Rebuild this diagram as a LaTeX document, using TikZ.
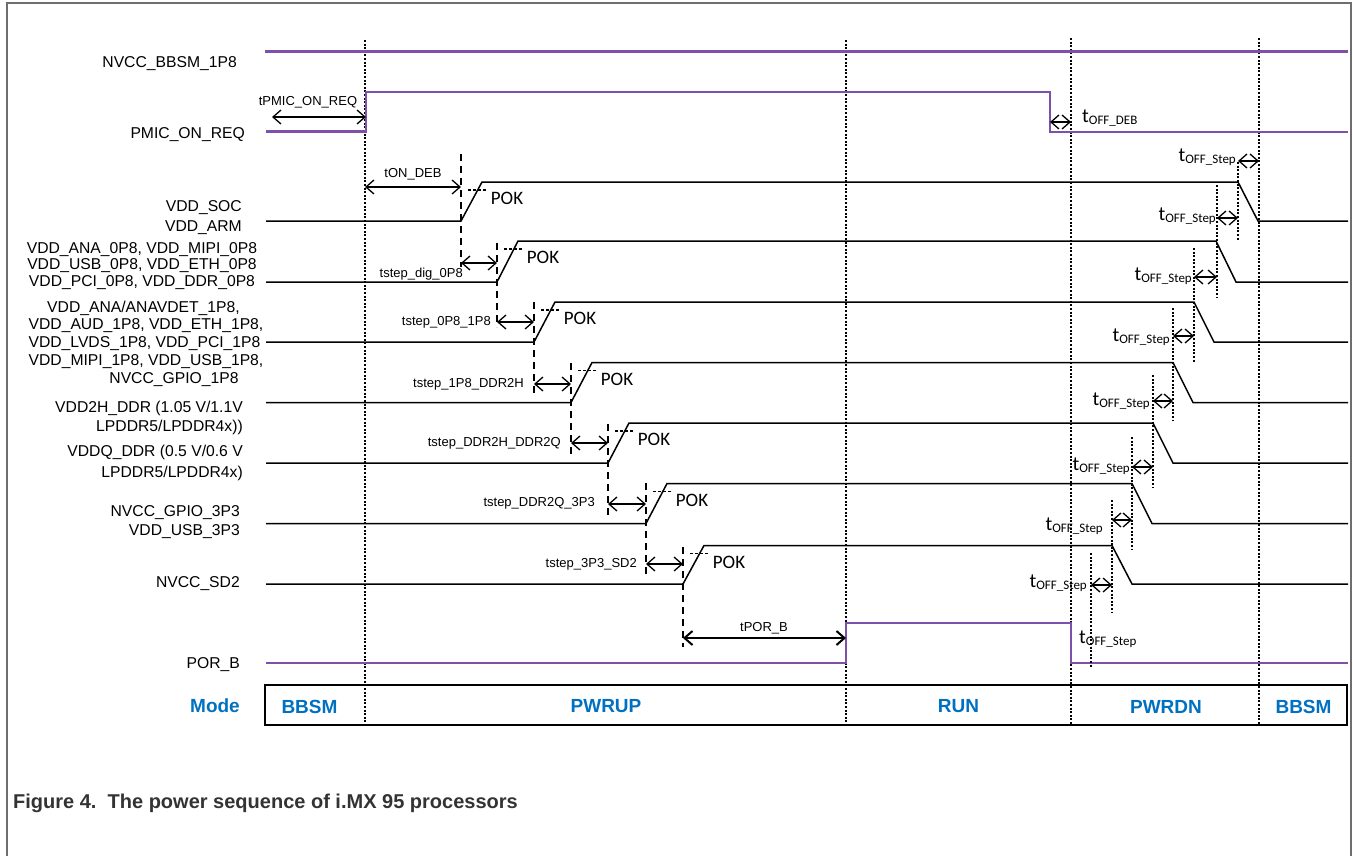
\documentclass[tikz,border=0pt]{standalone}
\usepackage{fontspec}
\setmainfont{Liberation Sans}
\newfontfamily\calfont{Carlito}
\usetikzlibrary{arrows.meta}
\definecolor{sigpurple}{RGB}{125,80,170}
\definecolor{modeblue}{RGB}{0,112,192}
\definecolor{capgray}{RGB}{51,51,51}
\definecolor{framegray}{RGB}{110,110,110}
\begin{document}
\begin{tikzpicture}[x=1pt,y=-1pt,
  sig/.style={line width=1.5pt, black, line join=miter},
  psig/.style={line width=2.2pt, sigpurple},
  lbl/.style={font=\fontsize{15.7}{19}\selectfont, inner sep=0pt},
  small/.style={font=\fontsize{13}{15}\selectfont, inner sep=0pt},
  pok/.style={font=\calfont\fontsize{19}{21}\selectfont, inner sep=0pt},
  modelbl/.style={font=\bfseries\fontsize{19}{22}\selectfont, text=modeblue, inner sep=0pt},
  bound/.style={line width=1.3pt, dash pattern=on 2pt off 1.6pt},
  vdash/.style={line width=1.2pt, dash pattern=on 7pt off 5pt},
  pokdot/.style={line width=1.2pt, dash pattern=on 3pt off 2pt},
  dimarrow/.style={line width=1.3pt, {Straight Barb[length=8pt,width=14pt]}-{Straight Barb[length=8pt,width=14pt]}},
  toff/.style={font=\calfont\fontsize{20}{22}\selectfont, inner sep=0pt}
]
\useasboundingbox (0,0) rectangle (1353,855);
% frame
\draw[framegray, line width=1.3pt] (7,856) -- (7,3) -- (1351,3) -- (1351,856);

% mode boundaries
\foreach \x/\ys in {365/40, 846/40, 1071/38, 1259/38}
  \draw[bound] (\x,\ys) -- (\x,725);

% purple signals
\draw[psig] (265,51.5) -- (1348,51.5);
\draw[psig] (266,131.5) -- (366,131.5) -- (366,92) -- (1050,92) -- (1050,132) -- (1348,132);
\draw[psig] (266,662.7) -- (846,662.7) -- (846,622.7) -- (1071,622.7) -- (1071,662.7) -- (1348,662.7);

% black rails: rise x / low y / high y / fall x
\foreach \xr/\yl/\yh/\xf in {461/221/182/1238, 497/282/241/1216, 534/342/302/1194,
    571/402.5/362.5/1173, 608/463/423/1153, 646/523.5/483.5/1132, 683/584/545.5/1112}{
  \draw[sig] (266,\yl) -- (\xr,\yl) -- (\xr+21,\yh) -- (\xf,\yh) -- (\xf+20,\yl) -- (1348,\yl);
  \draw[pokdot] (\xr+7,\yh+8) -- (\xr+25,\yh+8);
  \node[pok] at (\xr+46,\yh+16.5) {POK};
}

% power-up dashed verticals
\foreach \x/\ya/\yb in {461/154/267, 497/243/327, 534/302/397, 571/363/458,
    608/424/517, 646/483/577, 683/547/647}
  \draw[vdash] (\x,\ya) -- (\x,\yb);

% power-down dotted verticals
\foreach \x/\ya/\yb in {1238/162/240, 1217/185/298, 1194/248/362, 1173/308/420,
    1153/375/488, 1132/437/550, 1112/500/613, 1091/553/667}
  \draw[bound] (\x,\ya) -- (\x,\yb);

% power-up timing arrows
\draw[dimarrow] (272,117) -- (366,117);
\node[small] (tpmic) at (308,102) {tPMIC\_ON\_REQ};
\draw[dimarrow] (365,187) -- (461,187);
\node[small] (tondeb) at (413,174) {tON\_DEB};
\draw[dimarrow] (461,263) -- (497,263);
\node[small, anchor=east] (tdig) at (463,274) {tstep\_dig\_0P8};
\draw[dimarrow] (497,322) -- (534,322);
\node[small, anchor=east] (t0p8) at (491,322.5) {tstep\_0P8\_1P8};
\draw[dimarrow] (534,384) -- (571,384);
\node[small, anchor=east] (t1p8) at (524,384) {tstep\_1P8\_DDR2H};
\draw[dimarrow] (571,443) -- (608,443);
\node[small, anchor=east] (tddr2h) at (561,443) {tstep\_DDR2H\_DDR2Q};
\draw[dimarrow] (608,504) -- (646,504);
\node[small, anchor=east] (tddr2q) at (595,503) {tstep\_DDR2Q\_3P3};
\draw[dimarrow] (646,564) -- (683,564);
\node[small, anchor=east] (t3p3) at (637,564) {tstep\_3P3\_SD2};
\draw[dimarrow, line width=2pt] (683,638) -- (846,638);
\node[small] (tpor) at (764,628) {tPOR\_B};

% power-down timing arrows
\foreach \xa/\xb/\y in {1050/1071/122, 1238/1259/161, 1217/1238/218, 1194/1217/277,
    1173/1194/336, 1153/1173/401, 1132/1153/467, 1112/1132/520, 1091/1112/585}
  \draw[dimarrow] (\xa,\y) -- (\xb,\y);
\node[toff, anchor=base west] (toffdeb) at (1082,122) {t\raisebox{-2pt}{\fontsize{13}{15}\selectfont OFF\_DEB}};
\foreach \n/\x/\y in {a/1236/161, b/1216/220, c/1192/280, d/1170/341, e/1150/405,
    f/1130/470, g/1103/530, h/1087/587}
  \node[toff, anchor=base east] (toff\n) at (\x,\y) {t\raisebox{-2pt}{\fontsize{13}{15}\selectfont OFF\_Step}};
\node[toff, anchor=base west] (toffi) at (1079,643) {t\raisebox{-2pt}{\fontsize{13}{15}\selectfont OFF\_Step}};

% signal labels
\node[lbl, anchor=east] (l1) at (237,64) {NVCC\_BBSM\_1P8};
\node[lbl, anchor=east] (l2) at (245,135) {PMIC\_ON\_REQ};
\node[lbl, anchor=east, align=right, font=\fontsize{15.7}{20}\selectfont] (l3) at (242,218) {VDD\_SOC\\VDD\_ARM};
\node[lbl, align=center, font=\fontsize{15.7}{16.6}\selectfont] (l4) at (142,265.7) {VDD\_ANA\_0P8, VDD\_MIPI\_0P8\\VDD\_USB\_0P8, VDD\_ETH\_0P8\\VDD\_PCI\_0P8, VDD\_DDR\_0P8};
\node[lbl] (l5a) at (143.5,308) {VDD\_ANA/ANAVDET\_1P8,};
\node[lbl] (l5b) at (146,326) {VDD\_AUD\_1P8, VDD\_ETH\_1P8,};
\node[lbl] (l5c) at (144.5,343.5) {VDD\_LVDS\_1P8, VDD\_PCI\_1P8};
\node[lbl] (l5d) at (146,362) {VDD\_MIPI\_1P8, VDD\_USB\_1P8,};
\node[lbl] (l5e) at (174,379.5) {NVCC\_GPIO\_1P8};
\node[lbl, anchor=east, align=right] (l6) at (243,417.5) {VDD2H\_DDR (1.05 V/1.1V\\LPDDR5/LPDDR4x))};
\node[lbl, anchor=east, align=right, font=\fontsize{15.7}{21}\selectfont] (l7) at (243,462.5) {VDDQ\_DDR (0.5 V/0.6 V\\LPDDR5/LPDDR4x)};
\node[lbl, anchor=east, align=right] (l8) at (240,522.5) {NVCC\_GPIO\_3P3\\VDD\_USB\_3P3};
\node[lbl, anchor=east] (l9) at (240,584) {NVCC\_SD2};
\node[lbl, anchor=east] (l10) at (240,665) {POR\_B};

% mode row
\draw[line width=1.5pt] (265,685) rectangle (1347,725);
\node[modelbl, anchor=east] (mode) at (240,706) {Mode};
\node[modelbl] (m1) at (309.5,706.5) {BBSM};
\node[modelbl] (m2) at (606,706.5) {PWRUP};
\node[modelbl] (m3) at (958.5,706.5) {RUN};
\node[modelbl] (m4) at (1166,706.5) {PWRDN};
\node[modelbl] (m5) at (1303.5,706.5) {BBSM};

% caption
\node[font=\bfseries\fontsize{20}{24}\selectfont, text=capgray, anchor=west, inner sep=0pt] (cap) at (13,803) {Figure 4.\ \ The power sequence of i.MX 95 processors};
\end{tikzpicture}
\end{document}
